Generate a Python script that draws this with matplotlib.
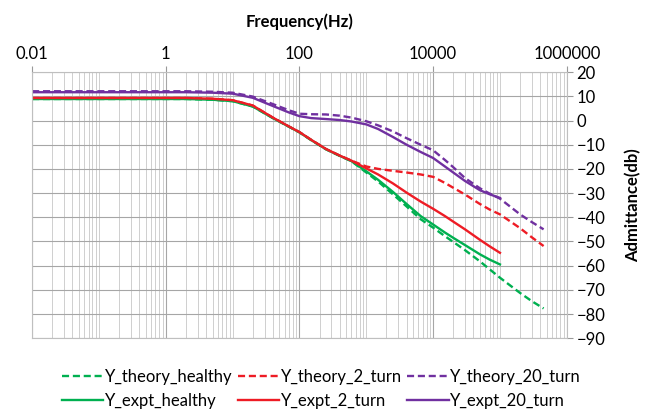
import matplotlib.pyplot as plt
from matplotlib.ticker import LogLocator, FixedLocator, NullFormatter

plt.rcParams['font.family'] = ['Lato', 'DejaVu Sans']

f_theory = [0.01, 0.1, 1, 2, 5, 10, 20, 40, 70, 100, 150, 250, 400, 600, 1000, 1500,
            2500, 4000, 6500, 10000, 15000, 20000, 30000, 50000, 70000, 100000,
            200000, 300000, 450000]
f_expt = f_theory[:-3]

# theory curves (dB)
y_theory_healthy = [8.9, 8.9, 8.9, 8.9, 8.6, 8.0, 5.8, 1.0, -2.6, -4.9, -8.1, -11.9,
                    -14.6, -16.8, -21.5, -25.2, -30.5, -35.5, -40.8, -44.3, -47.8,
                    -50.2, -53.6, -58.2, -61.5, -65.0, -71.3, -74.7, -77.7]
y_theory_2_turn = [9.3, 9.3, 9.3, 9.3, 9.0, 8.4, 6.2, 1.2, -2.5, -4.8, -8.0, -11.8,
                   -14.5, -16.6, -19.0, -20.0, -20.8, -21.5, -22.3, -23.3, -25.8,
                   -27.8, -30.6, -34.5, -36.8, -38.8, -44.5, -48.3, -51.9]
y_theory_20_turn = [12.1, 12.1, 12.1, 12.1, 11.9, 11.5, 9.9, 6.8, 4.2, 2.8, 2.6, 2.5,
                    2.0, 1.2, -0.3, -2.0, -4.5, -7.3, -10.0, -12.3, -16.3, -19.3,
                    -23.8, -28.0, -30.2, -32.3, -38.8, -42.0, -45.0]
# experiment curves (dB)
y_expt_healthy = [8.9, 8.9, 8.9, 8.9, 8.6, 8.0, 5.8, 1.0, -2.6, -4.9, -8.1, -11.9,
                  -14.6, -16.8, -21.0, -24.5, -29.5, -34.5, -39.5, -43.0, -46.3,
                  -48.5, -51.5, -55.3, -57.5, -59.5]
y_expt_2_turn = [9.3, 9.3, 9.3, 9.3, 9.0, 8.4, 6.2, 1.2, -2.5, -4.8, -8.0, -11.8,
                 -14.5, -16.6, -19.8, -22.3, -26.0, -29.8, -33.5, -36.5, -39.5,
                 -41.8, -45.0, -49.3, -52.0, -54.7]
y_expt_20_turn = [11.7, 11.7, 11.7, 11.7, 11.5, 11.1, 9.4, 6.0, 3.3, 1.8, 1.0, 0.6,
                  0.2, -0.4, -1.6, -3.5, -6.8, -10.0, -13.0, -15.5, -19.0, -21.5,
                  -25.0, -28.8, -30.5, -32.0]

green = "#00B050"
red = "#EE1C25"
purple = "#7030A0"

fig = plt.figure(figsize=(6.56, 4.17), dpi=100)
ax = fig.add_axes([0.049, 0.189, 0.815, 0.638])

dash = (0, (3, 1.6))
l1, = ax.plot(f_theory, y_theory_healthy, color=green, lw=1.7, ls=dash, label="Y_theory_healthy")
l2, = ax.plot(f_theory, y_theory_2_turn, color=red, lw=1.7, ls=dash, label="Y_theory_2_turn")
l3, = ax.plot(f_theory, y_theory_20_turn, color=purple, lw=1.7, ls=dash, label="Y_theory_20_turn")
l4, = ax.plot(f_expt, y_expt_healthy, color=green, lw=1.7, label="Y_expt_healthy")
l5, = ax.plot(f_expt, y_expt_2_turn, color=red, lw=1.7, label="Y_expt_2_turn")
l6, = ax.plot(f_expt, y_expt_20_turn, color=purple, lw=1.7, label="Y_expt_20_turn")

ax.set_xscale("log")
ax.set_xlim(0.01, 1e6)
ax.set_ylim(-90, 20)

ax.xaxis.set_major_locator(FixedLocator([0.01, 1, 100, 10000, 1000000]))
ax.set_xticklabels(["0.01", "1", "100", "10000", "1000000"])
ax.xaxis.set_minor_locator(LogLocator(base=10, subs=range(1, 10), numticks=50))
ax.xaxis.set_minor_formatter(NullFormatter())
ax.xaxis.tick_top()
ax.xaxis.set_label_position("top")
ax.set_xlabel("Frequency(Hz)", fontsize=12, fontweight="bold", labelpad=14)

ax.set_yticks(range(-90, 21, 10))
ax.yaxis.tick_right()
ax.yaxis.set_label_position("right")
ax.set_ylabel("Admittance(db)", fontsize=12, fontweight="bold", labelpad=14)

ax.tick_params(axis="both", which="major", labelsize=12, length=4, color="#999999", pad=3)
ax.tick_params(axis="x", which="minor", length=0)

ax.grid(True, which="major", color="#A6A6A6", lw=0.8)
ax.grid(True, which="minor", axis="x", color="#C8C8C8", lw=0.6)
ax.set_axisbelow(True)
for s in ax.spines.values():
    s.set_color("#BFBFBF")
    s.set_linewidth(0.8)

order = [l1, l4, l2, l5, l3, l6]
fig.legend(order, [l.get_label() for l in order],
           ncol=3, loc="center", bbox_to_anchor=(0.49, 0.067), frameon=False,
           fontsize=12, handlelength=2.5, handletextpad=0.1, columnspacing=0.3,
           labelspacing=0.5)

fig.savefig("out.png", dpi=100)
